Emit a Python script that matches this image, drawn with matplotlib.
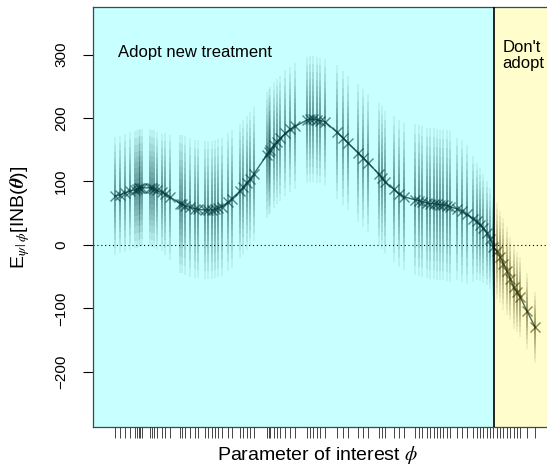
import numpy as np
import matplotlib
matplotlib.use("Agg")
import matplotlib.pyplot as plt

plt.rcParams['font.family'] = ['Liberation Sans', 'DejaVu Sans']
plt.rcParams['mathtext.fontset'] = 'stix'

# sampled values of the parameter of interest (rug positions)
phi_samples = [0.0, 1.2, 2.4, 3.6, 4.8, 5.2, 5.6, 6.0, 6.4,
               8.4, 8.8, 9.2, 10.0, 11.2, 12.0, 13.2,
               15.6, 16.0, 16.7, 17.9, 19.1, 19.9,
               21.5, 22.3, 23.1, 23.9, 24.7, 25.5,
               27.1, 27.9,
               29.9, 30.7, 31.5, 32.3, 33.1,
               36.3, 36.7, 37.1, 37.9, 38.7,
               39.5, 40.7, 41.9, 43.1,
               45.9, 46.7, 47.4, 48.2, 49.0, 50.2,
               53.0, 54.6, 55.8,
               58.2, 59.4, 60.6,
               63.0, 63.8, 64.6,
               66.6, 67.8, 69.0,
               71.8, 72.6, 73.4,
               74.6, 75.4, 76.2, 77.0, 77.8, 78.5,
               79.3, 80.1,
               81.7, 82.9, 84.1,
               85.7, 86.5, 87.3, 88.1, 88.9, 89.7,
               90.5, 91.3, 92.1, 92.9, 93.7, 94.5,
               95.3, 96.1, 96.9,
               98.5, 100.5]

# fitted E[INB | phi] at each sample
inb_mean = [77, 79, 82, 85, 87, 88, 89, 90, 90,
            90, 89, 88, 86, 83, 80, 75,
            65, 64, 62, 59, 57, 56,
            55, 55, 55, 56, 58, 60,
            68, 73,
            85, 92, 98, 104, 111,
            142, 146, 150, 157, 163,
            168, 176, 182, 187,
            197, 198, 198, 197, 196, 194,
            178, 168, 160,
            145, 137, 129,
            112, 106, 99,
            88, 81, 76,
            71, 70, 68,
            66, 65, 65, 64, 63, 63,
            62, 60,
            57, 53, 48,
            41, 37, 32, 26, 19, 10,
            -3, -10, -19, -30, -41, -53,
            -66, -74, -82,
            -104, -130]

# spread of the INB samples around each fitted value
inb_sd = [28, 28, 28, 28, 28, 28, 28, 28, 28,
          28, 28, 28, 28, 28, 29, 30,
          33, 33, 33, 33, 33, 33,
          33, 33, 33, 33, 33, 33,
          33, 33,
          32, 32, 32, 32, 32,
          30, 30, 30, 30, 30,
          30, 30, 30, 30,
          30, 30, 30, 30, 30, 30,
          32, 32, 32,
          33, 33, 33,
          34, 34, 34,
          35, 35, 35,
          36, 36, 36,
          36, 36, 36, 36, 36, 36,
          36, 36,
          34, 34, 33,
          30, 28, 27, 26, 25, 24,
          24, 23, 22, 22, 21, 20,
          20, 19, 19,
          18, 17]

phi_cut = 90.6
yticks = [-200, -100, 0, 100, 200, 300]

col_adopt = '#C8FFFF'
col_reject = '#FFFDCC'
pt_adopt = '#003b3b'
pt_reject = '#3b3800'

fig = plt.figure(figsize=(5.47, 4.72), dpi=100)
ax = fig.add_axes([93/547, 1 - 427/472, 464/547, 420/472])
x0, x1 = -5.3, 105.7
ax.set_xlim(x0, x1)
ax.set_ylim(-287, 375)

ax.axvspan(x0, phi_cut, color=col_adopt, zorder=0, lw=0)
ax.axvspan(phi_cut, x1, color=col_reject, zorder=0, lw=0)
ax.axhline(0, color='black', ls=(0, (1, 2.5)), lw=0.8, zorder=1)

phi = np.asarray(phi_samples)
mu = np.asarray(inb_mean, dtype=float)
sd = np.asarray(inb_sd, dtype=float)
cols = [pt_adopt if p < phi_cut else pt_reject for p in phi_samples]

# density of the samples: nested translucent bands
for k in [0.3, 0.6, 0.9, 1.2, 1.5, 1.8, 2.1, 2.5, 2.9, 3.3]:
    ax.vlines(phi, mu - k*sd, mu + k*sd, colors=cols, alpha=0.08,
              lw=1.2, zorder=2)

ax.plot(phi, mu, color='#002b2b', alpha=0.7, lw=1.0, zorder=3)
for p, m, c in zip(phi_samples, inb_mean, cols):
    ax.plot(p, m, ls='none', marker='x', ms=7.5, mew=1.0, color=c,
            alpha=0.6, zorder=4)
ax.axvline(phi_cut, color='black', lw=1.2, zorder=5)

# rug
ax.vlines(phi, -0.026, 0, transform=ax.get_xaxis_transform(),
          clip_on=False, colors='#444444', lw=0.7)

ax.set_xticks([])
ax.set_yticks(yticks)
ax.set_yticklabels([str(v).replace('-', '\u2212') for v in yticks],
                   rotation=90, va='center', fontsize=11)
ax.tick_params(axis='y', direction='out', length=7, width=0.8, pad=11)
for s in ['left', 'top', 'bottom']:
    ax.spines[s].set_color('#2f4f4f')
    ax.spines[s].set_linewidth(0.9)
ax.spines['right'].set_visible(False)

ax.text(0.7, 304, 'Adopt new treatment', ha='left', va='center', fontsize=12)
ax.text(92.6, 298, "Don't\nadopt", ha='left', va='center', fontsize=12,
        linespacing=1.1)

fig.text(20/547, 1 - 217/472, r'E$_{\psi\,|\,\phi}$[INB($\mathbfit{\theta}$)]',
         rotation=90, ha='center', va='center', fontsize=14)
fig.text(318/547, 1 - 455/472, r'Parameter of interest $\phi$',
         ha='center', va='center', fontsize=14)

fig.savefig('out.png', dpi=100)
